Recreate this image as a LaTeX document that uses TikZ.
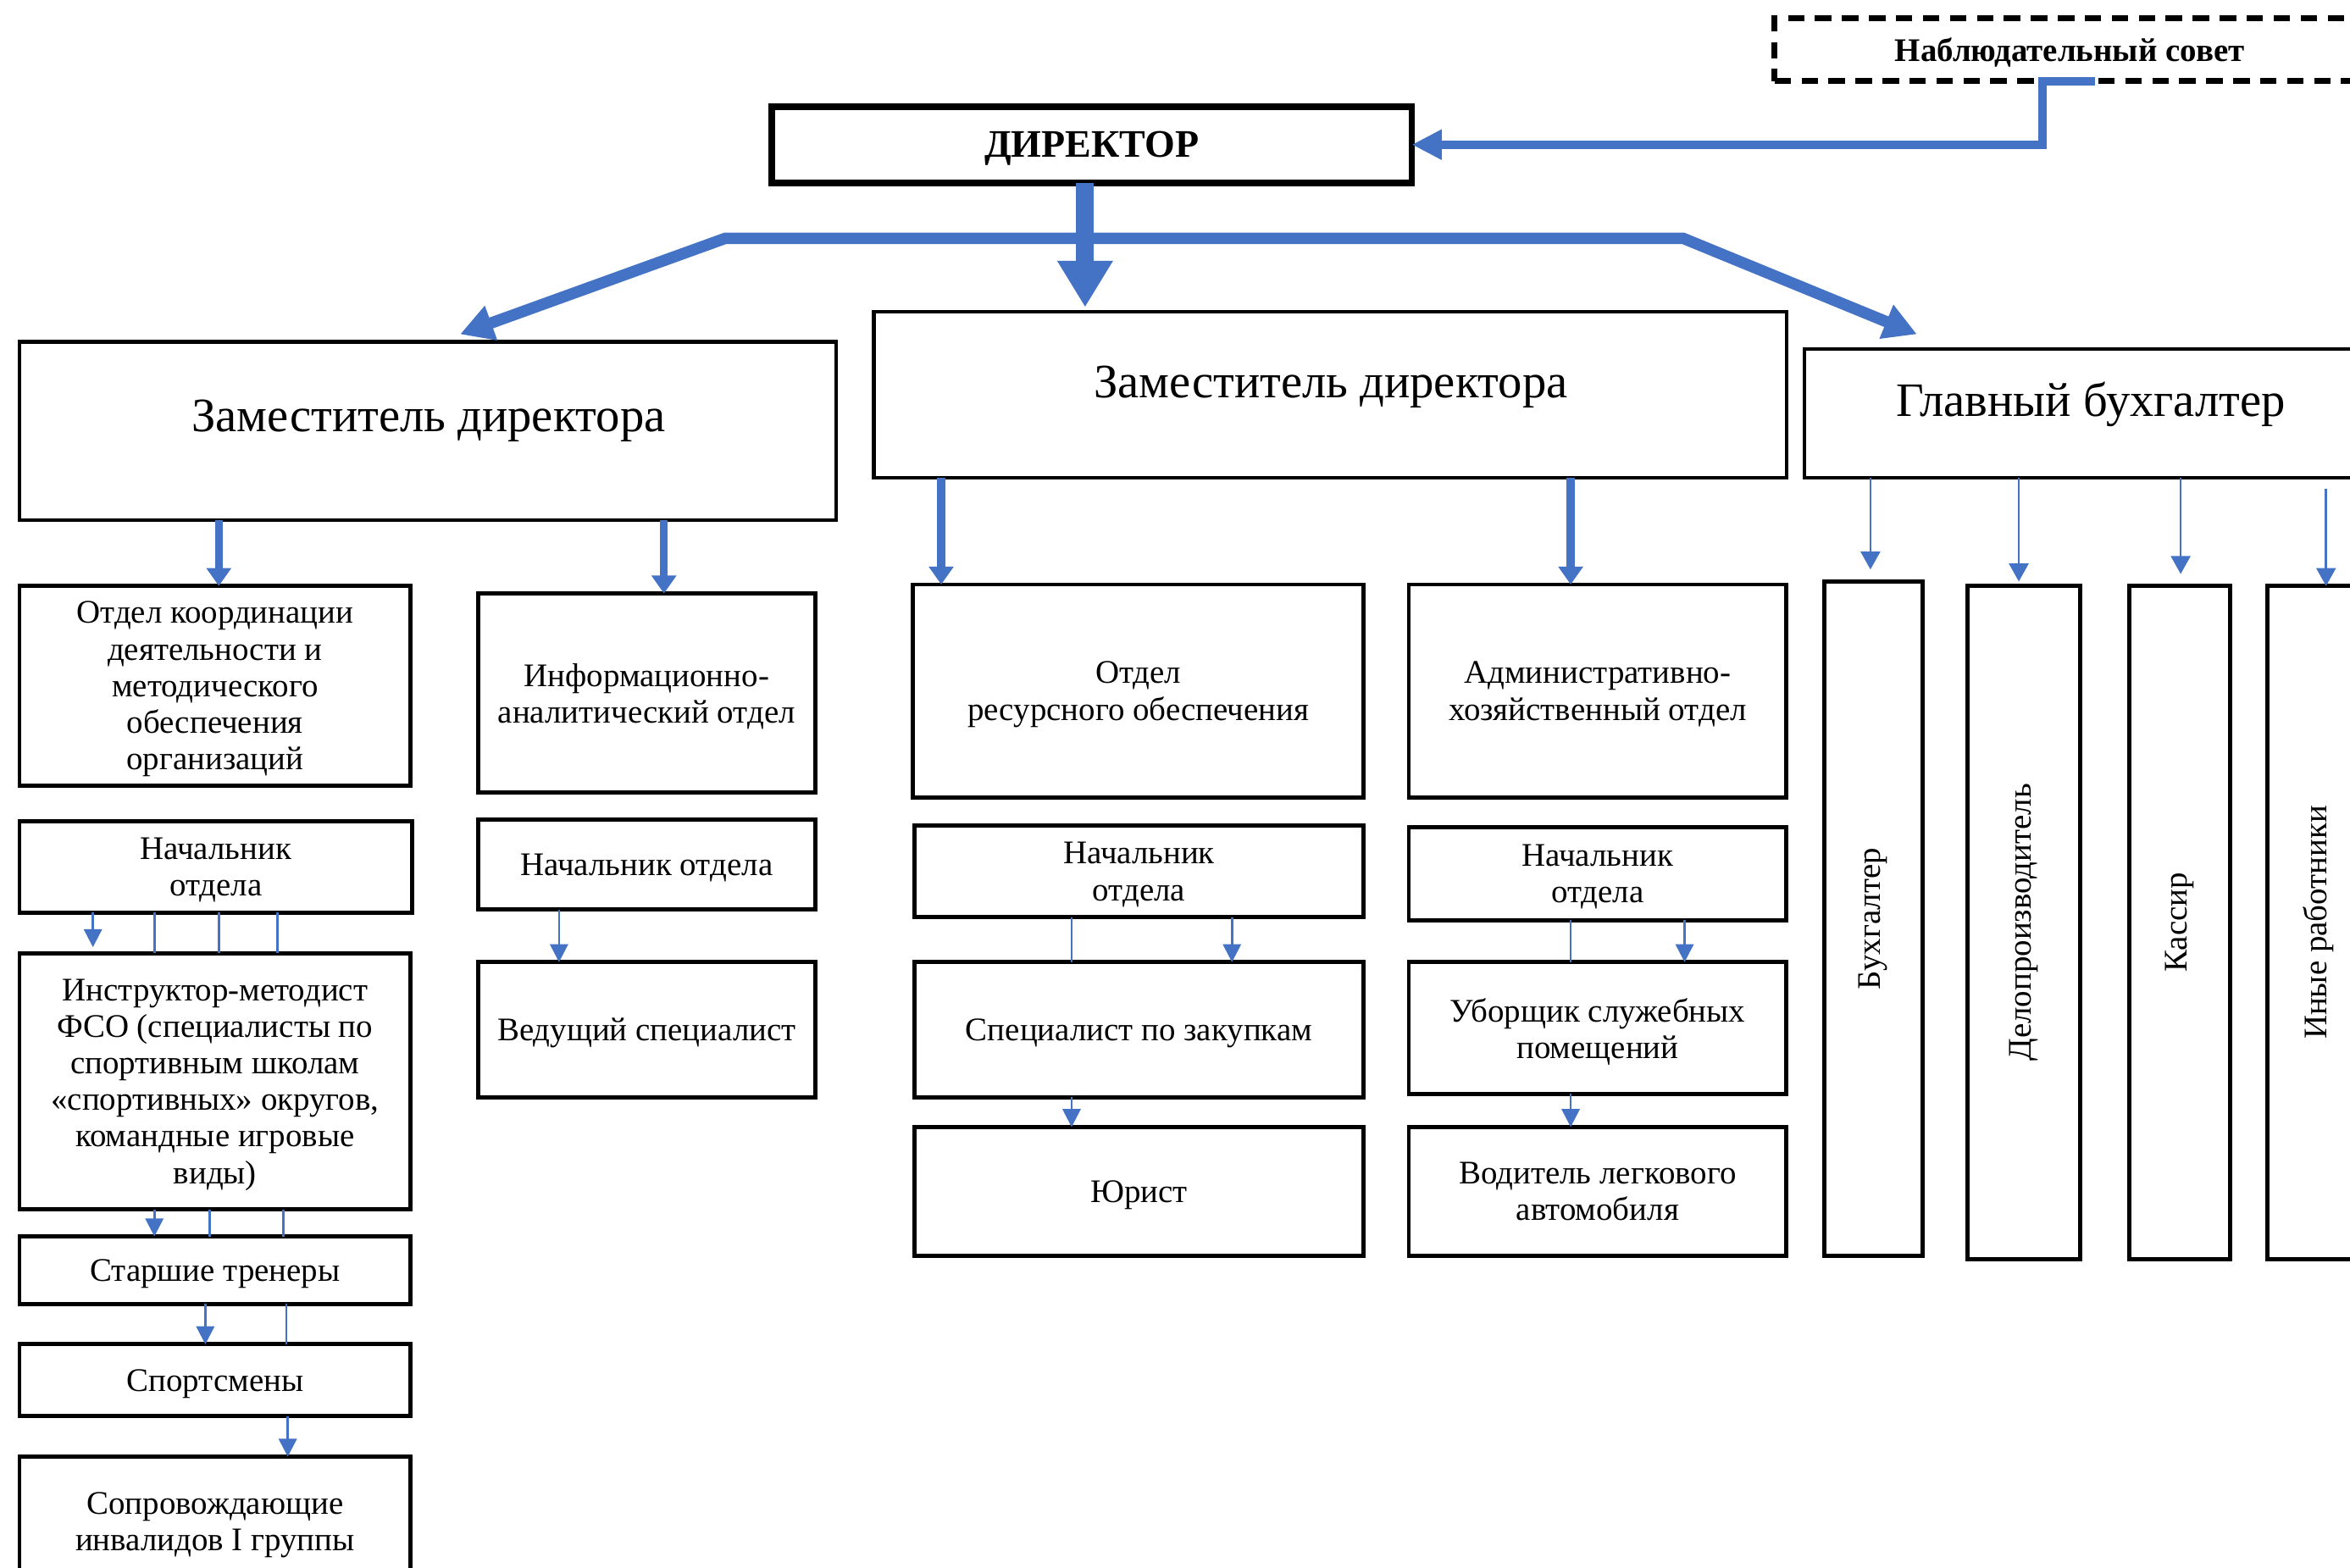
\documentclass[tikz,border=0pt]{standalone}
\usepackage{fontspec}
\setmainfont{Liberation Serif}
\usetikzlibrary{arrows.meta,calc}
\definecolor{arr}{HTML}{4472C4}
\newcommand\obox[7][]{%
  \pgfmathsetmacro\obw{(#5-#3)*0.5}%
  \pgfmathsetmacro\obh{(#6-#4)*0.5}%
  \node[box,minimum width=\obw pt,minimum height=\obh pt,#1] (#2) at ({(#3+#5)/2},{(#4+#6)/2}) {#7};}
\newcommand\vconn[4]{%
  \coordinate (vx) at (#2,0);
  \draw[#1] (vx |- #3.south) -- (vx |- #4.north);}
\begin{document}
\begin{tikzpicture}[x=0.5pt,y=-0.5pt,
 box/.style={draw=black,line width=1.4pt,inner sep=0pt,outer sep=0pt,align=center,text depth=0pt,font=\fontsize{11}{12.2}\selectfont,fill=white},
 dirbox/.style={line width=2.2pt,font=\bfseries\fontsize{13}{15}\selectfont},
 nabbox/.style={line width=2pt,dash pattern=on 5.5pt off 3.5pt,font=\bfseries\fontsize{11}{13}\selectfont},
 zambox/.style={line width=1.2pt},
 bigtext/.style={font=\fontsize{16}{19}\selectfont,inner sep=0pt},
 conn/.style={draw=arr},
 thin/.style={conn,line width=0.75pt},
 thinarr/.style={thin,-{Triangle[width=6pt,length=6pt]}},
 medarr/.style={conn,line width=2.6pt,-{Triangle[width=8pt,length=6pt]}},
 rarr/.style={conn,line width=0.7pt,-{Triangle[width=6.5pt,length=6pt]}},
 diag/.style={conn,line width=3.8pt,line join=miter,{Triangle[width=11.5pt,length=11pt]}-{Triangle[width=11.5pt,length=11pt]}},
 dirarr/.style={conn,line width=6pt,-{Triangle[width=17.5pt,length=15.5pt]}},
 nabarr/.style={conn,line width=2.8pt,line join=miter,-{Triangle[width=9.5pt,length=10pt]}},
]
\useasboundingbox (0,0) rectangle (1568,1046);
\fill[white] (0,0) rectangle (1568,1046);
\clip (0,0) rectangle (1568,1046);

% top level
\obox[nabbox]{nab}{1184}{12}{1578}{54}{Наблюдательный совет}
\obox[dirbox]{dir}{515}{71}{942}{122}{ДИРЕКТОР}

% deputies
\obox[zambox]{zam1}{13}{228}{558}{347}{}
\node[bigtext] (zam1t) at (286,281) {Заместитель директора};
\obox[zambox]{zam2}{583}{208}{1192}{319}{}
\node[bigtext] (zam2t) at (888,258) {Заместитель директора};
\obox[zambox]{gb}{1204}{233}{1590}{319}{}
\node[bigtext] (gbt) at (1395,270) {Главный бухгалтер};

% left column
\obox{koord}{13}{391}{274}{524}{Отдел координации\\деятельности и\\методического\\обеспечения\\организаций}
\obox{nach1}{13}{548}{275}{609}{Начальник\\отдела}
\obox{instr}{13}{636}{274}{807}{Инструктор-методист\\ФСО (специалисты по\\спортивным школам\\«спортивных» округов,\\командные игровые\\виды)}
\obox{star}{13}{825}{274}{870}{Старшие тренеры}
\obox{sport}{13}{897}{274}{945}{Спортсмены}
\obox{sopr}{13}{972}{274}{1058}{Сопровождающие\\инвалидов I группы}

\obox{info}{319}{396}{544}{529}{Информационно-\\аналитический отдел}
\obox{nach2}{319}{547}{544}{607}{Начальник отдела}
\obox{ved}{319}{642}{544}{732}{Ведущий специалист}

% centre column
\obox{res}{609}{390}{910}{532}{Отдел\\ресурсного обеспечения}
\obox{nach3}{610}{551}{910}{612}{Начальник\\отдела}
\obox{spec}{610}{642}{910}{732}{Специалист по закупкам}
\obox{yur}{610}{752}{910}{838}{Юрист}

\obox{adm}{940}{390}{1192}{532}{Административно-\\хозяйственный отдел}
\obox{nach4}{940}{552}{1192}{614}{Начальник\\отдела}
\obox{ubor}{940}{642}{1192}{730}{Уборщик служебных\\помещений}
\obox{vod}{940}{752}{1192}{838}{Водитель легкового\\автомобиля}

% right column
\obox{buh}{1217}{388}{1283}{838}{\rotatebox{90}{Бухгалтер}}
\obox{delo}{1313}{391}{1388}{840}{\rotatebox{90}{Делопроизводитель}}
\obox{kass}{1421}{391}{1488}{840}{\rotatebox{90}{Кассир}}
\obox{inye}{1513}{391}{1581}{840}{\rotatebox{90}{Иные работники}}

% main connectors
\coordinate (nabj) at (1398,54);
\draw[nabarr] (nabj) -- ++(-35,0) |- (dir.east);
\coordinate (dtip) at (724,205);
\coordinate (barL) at (484,159);
\coordinate (barR) at (1123,159);
\coordinate (z1tip) at (307,223);
\coordinate (gbtip) at (1279,223);
\draw[diag] (z1tip) -- (barL) -- (barR) -- (gbtip);
\draw[dirarr] (dir.south -| dtip) -- (dtip);

% deputies to departments
\vconn{medarr}{146}{zam1}{koord}
\vconn{medarr}{443}{zam1}{info}
\vconn{medarr}{628}{zam2}{res}
\vconn{medarr}{1048}{zam2}{adm}

% chief accountant to staff
\vconn{rarr,shorten >=4pt}{1248}{gb}{buh}
\vconn{rarr,shorten >=1.5pt}{1347}{gb}{delo}
\vconn{rarr,shorten >=4pt}{1455}{gb}{kass}
\vconn{rarr,shorten <=3.5pt}{1552}{gb}{inye}

% left column links
\vconn{thinarr,shorten >=2pt}{62}{nach1}{instr}
\vconn{thin}{103}{nach1}{instr}
\vconn{thin}{146}{nach1}{instr}
\vconn{thin}{185}{nach1}{instr}
\vconn{thinarr}{103}{instr}{star}
\vconn{thin}{140}{instr}{star}
\vconn{thin}{189}{instr}{star}
\vconn{thinarr}{137}{star}{sport}
\vconn{thin}{191}{star}{sport}
\vconn{thinarr}{192}{sport}{sopr}
\vconn{thinarr}{373}{nach2}{ved}

% centre column links
\vconn{thin}{715}{nach3}{spec}
\vconn{thinarr}{822}{nach3}{spec}
\vconn{thinarr}{715}{spec}{yur}
\vconn{thin}{1048}{nach4}{ubor}
\vconn{thinarr}{1124}{nach4}{ubor}
\vconn{thinarr}{1048}{ubor}{vod}
\end{tikzpicture}
\end{document}
